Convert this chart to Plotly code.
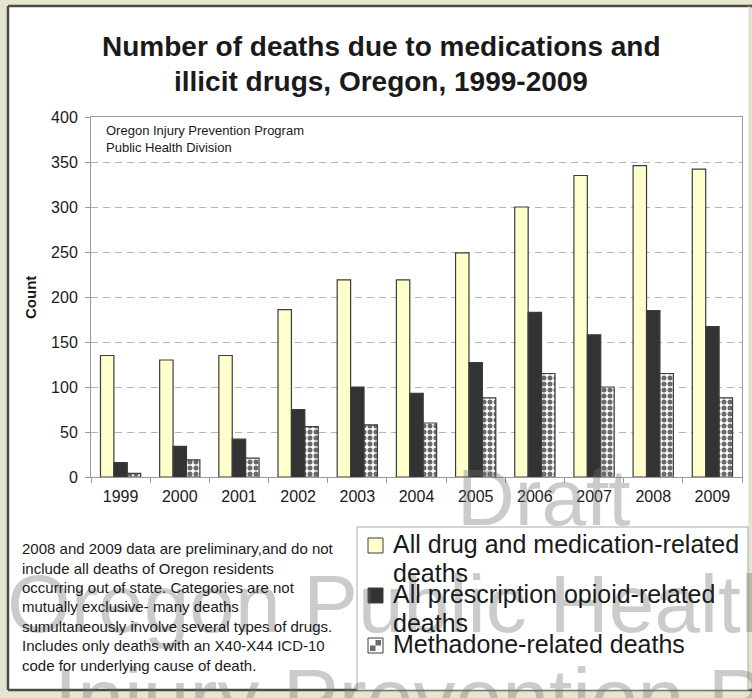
import plotly.graph_objects as go

# ---- data -------------------------------------------------------------
years = ["1999", "2000", "2001", "2002", "2003", "2004",
         "2005", "2006", "2007", "2008", "2009"]
all_drug = [135, 130, 135, 186, 219, 219, 249, 300, 335, 346, 342]
opioid = [16, 34, 42, 75, 100, 93, 127, 183, 158, 185, 167]
methadone = [4, 19, 21, 56, 58, 60, 88, 115, 100, 115, 88]

y_ticks = [0, 50, 100, 150, 200, 250, 300, 350, 400]

series_names = [
    "All drug and medication-related deaths",
    "All prescription opioid-related deaths",
    "Methadone-related deaths",
]
legend_lines = [
    ["All drug and medication-related", "deaths"],
    ["All prescription opioid-related", "deaths"],
    ["Methadone-related deaths"],
]

title_lines = ["Number of deaths due to medications and",
               "illicit drugs, Oregon, 1999-2009"]
source_lines = ["Oregon Injury Prevention Program", "Public Health Division"]
note_lines = [
    "2008 and 2009 data are preliminary,and do not",
    "include all deaths of Oregon residents",
    "occurring out of state. Categories are not",
    "mutually exclusive- many deaths",
    "sumultaneously involve several types of drugs.",
    "Includes only deaths with an X40-X44 ICD-10",
    "code for underlying cause of death.",
]
watermark_lines = ["Draft", "Oregon Public Health", "Injury Prevention Program"]

# ---- page geometry (pixels) -------------------------------------------
W, H = 752, 698
L, R, T, B = 91, 742, 117, 477          # plot area edges
PW, PH = R - L, B - T

FONT = "Arial, Liberation Sans, sans-serif"
INK = "#1a1a1a"
EDGE = "#3c3c3c"
AXIS = "#9a9a9a"
YELLOW = "#ffffcc"
DARK = "#333333"
CHECK = "#6a6a6a"


def fx(x):
    return (x - L) / PW


def fy(y):
    return (B - y) / PH


fig = go.Figure()
fig.add_bar(x=years, y=all_drug, name=series_names[0],
            marker=dict(color=YELLOW, line=dict(color=EDGE, width=1.2)))
fig.add_bar(x=years, y=opioid, name=series_names[1],
            marker=dict(color=DARK, line=dict(color=EDGE, width=1.2)))
fig.add_bar(x=years, y=methadone, name=series_names[2],
            marker=dict(color="white",
                        pattern=dict(shape=".", size=6, solidity=0.55,
                                     fgcolor=CHECK, bgcolor="white",
                                     fillmode="replace"),
                        line=dict(color=EDGE, width=1.2)))

shapes = []
# white card with a dark frame
shapes.append(dict(type="rect", xref="paper", yref="paper",
                   x0=fx(8), x1=fx(749), y0=fy(690), y1=fy(6),
                   fillcolor="white", line=dict(width=0), layer="below"))
for (x0, y0, x1, y1) in [(8, 6, 8, 690), (8, 6, 760, 6), (8, 690, 760, 690)]:
    shapes.append(dict(type="line", xref="paper", yref="paper",
                       x0=fx(x0), x1=fx(x1), y0=fy(y0), y1=fy(y1),
                       line=dict(color="#4a4a44", width=2.5), layer="above"))
shapes.append(dict(type="line", xref="paper", yref="paper",
                   x0=fx(749), x1=fx(749), y0=fy(6), y1=fy(690),
                   line=dict(color="#d8d8c8", width=1), layer="above"))

# legend box and swatches
shapes.append(dict(type="rect", xref="paper", yref="paper",
                   x0=fx(357), x1=fx(748), y0=fy(690), y1=fy(527),
                   fillcolor="white", line=dict(color="#a8a8a8", width=1),
                   layer="above"))
sw = [(368, 538), (368, 588), (368, 638)]
fills = [YELLOW, DARK, "white"]
for (sx, sy), fc in zip(sw, fills):
    shapes.append(dict(type="rect", xref="paper", yref="paper",
                       x0=fx(sx), x1=fx(sx + 15), y0=fy(sy + 15), y1=fy(sy),
                       fillcolor=fc, line=dict(color=EDGE, width=1),
                       layer="above"))
sx, sy = sw[2]
for (a, b) in [(sx + 7.5, sy + 2), (sx + 2, sy + 7.5)]:
    shapes.append(dict(type="rect", xref="paper", yref="paper",
                       x0=fx(a), x1=fx(a + 5.5), y0=fy(b + 5.5), y1=fy(b),
                       fillcolor=CHECK, line=dict(width=0), layer="above"))

ann = []


def text_at(txt, x, baseline, size, xanchor="left", bold=False,
            color=INK, textangle=0):
    t = f"<b>{txt}</b>" if bold else txt
    ann.append(dict(text=t, xref="paper", yref="paper",
                    x=fx(x), y=fy(baseline - 0.35 * size),
                    xanchor=xanchor, yanchor="middle", showarrow=False,
                    textangle=textangle,
                    font=dict(family=FONT, size=size, color=color)))


# faint watermark
WM = "rgba(110,110,110,0.36)"
text_at(watermark_lines[0], 455, 525, 80, color=WM)
text_at(watermark_lines[1], 5, 632, 82, color=WM)
text_at(watermark_lines[2], 52, 727, 84, color=WM)

# title
text_at(title_lines[0], 381, 56, 28, xanchor="center", bold=True)
text_at(title_lines[1], 381, 91, 28, xanchor="center", bold=True)

# source credit inside the plot
for i, s in enumerate(source_lines):
    text_at(s, 104, 135 + 17 * i, 13)

# explanatory note
for i, s in enumerate(note_lines):
    text_at(s, 20, 554 + 19.4 * i, 15)

# legend text
legend_baselines = [[553, 582], [603, 632], [653]]
for lines, bases in zip(legend_lines, legend_baselines):
    for s, b in zip(lines, bases):
        text_at(s, 391, b, 25)

# y-axis title
ann.append(dict(text="<b>Count</b>", xref="paper", yref="paper",
                x=fx(30), y=fy(297), xanchor="center", yanchor="middle",
                textangle=-90, showarrow=False,
                font=dict(family=FONT, size=15, color=INK)))

fig.update_layout(
    width=W, height=H,
    margin=dict(l=L, r=W - R, t=T, b=H - B, pad=0),
    paper_bgcolor="#e6e6cf",
    plot_bgcolor="white",
    showlegend=False,
    barmode="group",
    bargap=0.32,
    bargroupgap=0,
    shapes=shapes,
    annotations=ann,
    font=dict(family=FONT, color=INK),
)
fig.update_xaxes(type="category", showline=True, linecolor=AXIS, linewidth=1,
                 mirror=True, ticks="outside", tickson="boundaries",
                 ticklen=5, tickcolor=AXIS, showgrid=False,
                 tickfont=dict(family=FONT, size=16, color=INK),
                 ticklabelstandoff=5)
fig.update_yaxes(range=[0, 400], tickvals=y_ticks, showline=True,
                 linecolor=AXIS, linewidth=1, mirror=True, ticks="outside",
                 ticklen=5, tickcolor=AXIS, gridcolor="#b4b4b4",
                 griddash="7px,5px", zeroline=False,
                 tickfont=dict(family=FONT, size=16, color=INK),
                 ticklabelstandoff=4)

fig.write_html("out.html")
